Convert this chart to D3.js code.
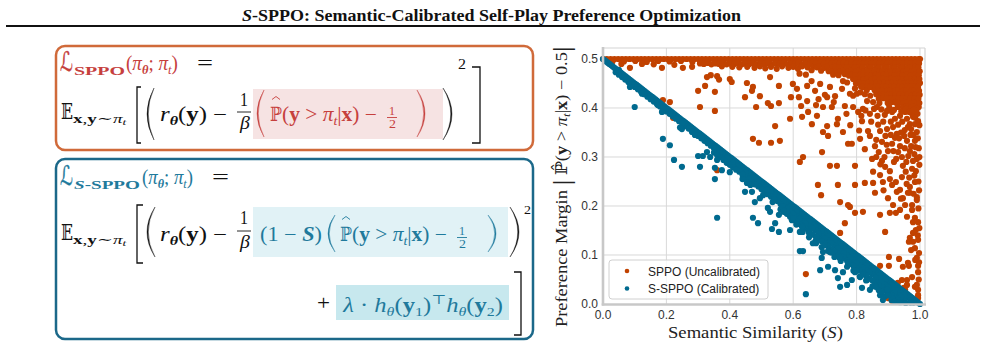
<!DOCTYPE html>
<html><head><meta charset="utf-8">
<script src="https://cdn.jsdelivr.net/npm/d3@7"></script>
<style>body{margin:0;background:#fff}svg{display:block}</style>
</head><body><svg id="c" width="985" height="357"></svg>
<script>
// ===== DATA =====
const xTicks = [0.0, 0.2, 0.4, 0.6, 0.8, 1.0];
const yTicks = [0.0, 0.1, 0.2, 0.3, 0.4, 0.5];
const seriesNames = ["SPPO (Uncalibrated)", "S-SPPO (Calibrated)"];

// SPPO: dense top band [S, margin]
const sppoBand = [[0.000,0.500],[0.012,0.500],[0.024,0.500],[0.036,0.500],[0.048,0.500],[0.060,0.500],[0.072,0.500],[0.084,0.500],[0.096,0.500],[0.108,0.500],[0.120,0.500],[0.132,0.500],[0.144,0.500],[0.156,0.500],[0.168,0.500],[0.180,0.500],[0.192,0.500],[0.204,0.500],[0.216,0.500],[0.228,0.500],[0.240,0.500],[0.252,0.500],[0.264,0.500],[0.276,0.500],[0.288,0.500],[0.300,0.500],[0.312,0.500],[0.324,0.500],[0.336,0.500],[0.348,0.500],[0.360,0.500],[0.372,0.500],[0.384,0.500],[0.396,0.500],[0.408,0.500],[0.420,0.500],[0.432,0.500],[0.444,0.500],[0.456,0.500],[0.468,0.500],[0.480,0.500],[0.492,0.500],[0.504,0.500],[0.516,0.500],[0.528,0.500],[0.540,0.500],[0.552,0.500],[0.564,0.500],[0.576,0.500],[0.588,0.500],[0.600,0.500],[0.612,0.500],[0.624,0.500],[0.636,0.500],[0.648,0.500],[0.660,0.500],[0.672,0.500],[0.684,0.500],[0.696,0.500],[0.708,0.500],[0.720,0.500],[0.732,0.500],[0.744,0.500],[0.756,0.500],[0.768,0.500],[0.780,0.500],[0.792,0.500],[0.804,0.500],[0.816,0.500],[0.828,0.500],[0.840,0.500],[0.852,0.500],[0.864,0.500],[0.876,0.500],[0.888,0.500],[0.900,0.500],[0.912,0.500],[0.924,0.500],[0.936,0.500],[0.948,0.500],[0.960,0.500],[0.972,0.500],[0.984,0.500],[0.996,0.500],[1.000,0.500],
[0.030,0.495],[0.066,0.495],[0.102,0.496],[0.138,0.494],[0.174,0.496],[0.210,0.495],[0.246,0.496],[0.282,0.494],[0.306,0.491],[0.318,0.490],[0.330,0.492],[0.342,0.489],[0.354,0.491],[0.366,0.490],[0.378,0.492],[0.390,0.489],[0.402,0.491],[0.414,0.490],[0.426,0.492],[0.438,0.489],[0.450,0.491],[0.462,0.490],[0.474,0.492],[0.486,0.489],[0.498,0.491],[0.510,0.490],[0.522,0.492],[0.534,0.489],[0.546,0.491],[0.558,0.490],[0.570,0.492],[0.582,0.489],[0.594,0.491],[0.606,0.490],[0.618,0.492],[0.630,0.489],[0.642,0.491],[0.654,0.490],
[0.455,0.484],[0.478,0.482],[0.495,0.485],[0.512,0.481],[0.530,0.484],[0.548,0.480],[0.565,0.485],[0.585,0.482],[0.600,0.484],[0.615,0.480],[0.628,0.485],[0.645,0.483],[0.160,0.489],[0.225,0.488],[0.058,0.490],[0.375,0.485],[0.408,0.484],[0.430,0.483]];

// SPPO: dense wedge at high similarity
const sppoWedge = [[0.660,0.492],[0.663,0.484],[0.658,0.477],[0.672,0.491],[0.675,0.483],[0.685,0.492],[0.682,0.485],[0.688,0.476],[0.697,0.490],[0.699,0.482],[0.710,0.492],[0.708,0.484],[0.712,0.475],
[0.722,0.491],[0.724,0.483],[0.720,0.475],[0.726,0.468],[0.735,0.492],[0.733,0.484],[0.737,0.476],[0.747,0.491],[0.745,0.483],[0.749,0.474],[0.743,0.467],[0.760,0.492],[0.762,0.484],[0.758,0.476],[0.763,0.469],[0.772,0.491],[0.770,0.483],[0.774,0.475],[0.776,0.466],[0.785,0.492],[0.787,0.484],[0.783,0.476],[0.786,0.468],[0.789,0.459],
[0.797,0.491],[0.795,0.483],[0.799,0.475],[0.796,0.467],[0.800,0.459],[0.798,0.450],[0.810,0.492],[0.812,0.484],[0.808,0.476],[0.811,0.468],[0.813,0.460],[0.809,0.452],[0.814,0.444],[0.822,0.491],[0.820,0.483],[0.824,0.475],[0.821,0.467],[0.823,0.459],[0.825,0.451],[0.819,0.443],[0.835,0.492],[0.837,0.484],[0.833,0.476],[0.836,0.468],[0.834,0.460],[0.838,0.452],[0.835,0.444],[0.832,0.436],[0.847,0.491],[0.845,0.483],[0.849,0.475],[0.846,0.467],[0.848,0.459],[0.850,0.451],[0.844,0.443],[0.860,0.492],[0.862,0.484],[0.858,0.476],[0.861,0.468],[0.859,0.460],[0.863,0.452],[0.860,0.444],[0.857,0.436],[0.862,0.428],
[0.872,0.491],[0.870,0.483],[0.874,0.475],[0.871,0.467],[0.873,0.459],[0.875,0.451],[0.869,0.443],[0.872,0.435],[0.874,0.427],[0.870,0.419],[0.885,0.492],[0.887,0.484],[0.883,0.476],[0.886,0.468],[0.884,0.460],[0.888,0.452],[0.885,0.444],[0.882,0.436],[0.887,0.428],[0.884,0.420],[0.897,0.491],[0.895,0.483],[0.899,0.475],[0.896,0.467],[0.898,0.459],[0.900,0.451],[0.894,0.443],[0.897,0.435],[0.899,0.427],[0.895,0.419],[0.898,0.410],[0.910,0.492],[0.912,0.484],[0.908,0.476],[0.911,0.468],[0.909,0.460],[0.913,0.452],[0.910,0.444],[0.907,0.436],[0.912,0.428],[0.909,0.420],[0.911,0.412],[0.922,0.491],[0.920,0.483],[0.924,0.475],[0.921,0.467],[0.923,0.459],[0.925,0.451],[0.919,0.443],[0.922,0.435],[0.924,0.427],[0.920,0.419],[0.923,0.411],
[0.935,0.492],[0.937,0.484],[0.933,0.476],[0.936,0.468],[0.934,0.460],[0.938,0.452],[0.935,0.444],[0.932,0.436],[0.937,0.428],[0.934,0.420],[0.936,0.411],[0.947,0.491],[0.945,0.483],[0.949,0.475],[0.946,0.467],[0.948,0.459],[0.950,0.451],[0.944,0.443],[0.947,0.435],[0.949,0.427],[0.945,0.419],[0.948,0.410],[0.946,0.402],[0.960,0.492],[0.962,0.484],[0.958,0.476],[0.961,0.468],[0.959,0.460],[0.963,0.452],[0.960,0.444],[0.957,0.436],[0.962,0.428],[0.959,0.420],[0.961,0.412],[0.958,0.404],[0.972,0.491],[0.970,0.483],[0.974,0.475],[0.971,0.467],[0.973,0.459],[0.975,0.451],[0.969,0.443],[0.972,0.435],[0.974,0.427],[0.970,0.419],[0.973,0.410],[0.971,0.402],[0.985,0.492],[0.987,0.484],[0.983,0.476],[0.986,0.468],[0.984,0.460],[0.988,0.452],[0.985,0.444],[0.982,0.436],[0.987,0.428],[0.984,0.420],[0.986,0.412],[0.983,0.404],[0.997,0.491],[0.995,0.483],[0.999,0.475],[0.996,0.467],[0.998,0.459],[1.000,0.451],[0.994,0.443],[0.997,0.435],[0.999,0.427],[0.995,0.419],[0.998,0.410],[0.996,0.402]];

// SPPO: scattered points
const sppoScatter = [[0.085,0.482],[0.123,0.490],[0.186,0.482],[0.252,0.482],[0.281,0.484],[0.189,0.416],[0.211,0.412],[0.221,0.380],
[0.300,0.435],[0.306,0.402],[0.322,0.445],[0.328,0.463],[0.340,0.467],[0.353,0.433],[0.353,0.394],[0.360,0.465],[0.366,0.458],[0.360,0.273],[0.400,0.459],[0.406,0.453],[0.448,0.422],[0.454,0.451],[0.470,0.435],[0.473,0.443],[0.483,0.402],[0.495,0.424],[0.473,0.337],[0.492,0.329],[0.520,0.410],[0.530,0.404],[0.527,0.463],[0.555,0.445],[0.555,0.410],[0.543,0.363],[0.530,0.329],[0.558,0.333],[0.590,0.378],[0.593,0.422],[0.599,0.449],[0.612,0.439],[0.618,0.422],[0.628,0.382],[0.625,0.404],[0.631,0.300],[0.621,0.290],[0.644,0.414],[0.647,0.392],[0.644,0.445],
[0.669,0.435],[0.685,0.449],[0.707,0.422],[0.716,0.443],[0.732,0.424],[0.754,0.439],[0.757,0.455],[0.779,0.429],[0.789,0.425],[0.801,0.429],[0.833,0.414],[0.852,0.412],[0.864,0.402],[0.896,0.394],[0.912,0.392],[0.937,0.384],[0.953,0.392],[0.959,0.378],[0.968,0.367],[0.975,0.388],[0.984,0.367],
[0.675,0.384],[0.659,0.367],[0.694,0.351],[0.707,0.363],[0.710,0.343],[0.691,0.310],[0.716,0.282],[0.738,0.282],[0.738,0.367],[0.741,0.378],[0.757,0.351],[0.763,0.404],[0.722,0.402],[0.694,0.402],[0.672,0.406],[0.773,0.327],[0.785,0.327],[0.789,0.402],[0.795,0.282],[0.811,0.337],[0.817,0.373],[0.820,0.398],[0.836,0.353],[0.842,0.343],[0.849,0.296],[0.858,0.322],[0.874,0.353],[0.880,0.331],[0.880,0.292],[0.890,0.280],[0.905,0.271],[0.899,0.312],[0.912,0.327],[0.915,0.361],[0.921,0.378],[0.927,0.347],[0.937,0.322],[0.943,0.300],[0.946,0.282],[0.959,0.333],[0.962,0.361],[0.968,0.312],[0.975,0.276],[0.978,0.382],[0.984,0.333],[0.990,0.296],[0.990,0.351],[0.994,0.373],[0.990,0.398],[0.987,0.271],
[0.678,0.243],[0.688,0.222],[0.741,0.243],[0.748,0.208],[0.773,0.202],[0.779,0.198],[0.795,0.243],[0.826,0.247],[0.852,0.247],[0.883,0.249],[0.795,0.186],[0.748,0.145],[0.763,0.165],[0.820,0.188],[0.858,0.227],[0.874,0.182],[0.890,0.147],[0.899,0.216],[0.905,0.186],[0.915,0.202],[0.924,0.186],[0.927,0.229],[0.937,0.192],[0.946,0.216],[0.953,0.202],[0.959,0.178],[0.962,0.227],[0.968,0.239],[0.975,0.192],[0.978,0.167],[0.978,0.127],[0.984,0.114],[0.987,0.151],[0.990,0.094],[0.990,0.212],[0.994,0.167],[0.997,0.104],[0.994,0.065],[0.994,0.029],[0.994,0.012],[0.984,0.035],[0.975,0.055],[0.959,0.049],[0.962,0.084],[0.946,0.076],[0.934,0.092],[0.943,0.049],[0.930,0.029],[0.953,0.029],[0.902,0.078],[0.905,0.045],[0.902,0.096],[0.965,0.127],[0.978,0.145],[0.984,0.176],[0.912,0.006],[0.899,0.012],[0.874,0.078],[0.640,0.061],[0.997,0.232],[0.993,0.140],[0.997,0.085],
[0.852,0.270],[0.874,0.263],[0.912,0.243],[0.924,0.249],[0.937,0.233],[0.943,0.259],[0.968,0.227],[0.975,0.202],[0.984,0.249],[0.990,0.218],[0.994,0.131],[0.968,0.135],[0.959,0.039],[0.990,0.039],[0.930,0.043],[0.965,0.078],[0.994,0.078],[0.949,0.033],[0.994,0.018],
[0.805,0.392],[0.815,0.384],[0.828,0.395],[0.842,0.388],[0.855,0.398],[0.866,0.384],[0.878,0.397],[0.889,0.386],[0.903,0.402],[0.918,0.396],[0.930,0.402],[0.941,0.393],[0.955,0.398],[0.966,0.392],[0.980,0.396],[0.992,0.388],[0.846,0.372],[0.868,0.366],[0.884,0.372],[0.896,0.357],[0.908,0.372],[0.931,0.366],[0.944,0.372],[0.952,0.355],[0.972,0.357],[0.985,0.380],[0.998,0.365],[0.862,0.335],[0.891,0.343],[0.921,0.339],[0.950,0.343],[0.980,0.345],[0.996,0.318],[0.972,0.322],[0.931,0.310],[0.918,0.290],[0.957,0.290],[0.982,0.306],[0.998,0.284],[0.870,0.310],[0.826,0.316],[0.808,0.354],[0.780,0.365],[0.768,0.388],[0.728,0.412],[0.700,0.427],[0.680,0.418],[0.658,0.455],[0.640,0.468],[0.620,0.470],[0.770,0.452],[0.795,0.440],[0.812,0.432],[0.826,0.428],[0.843,0.425],[0.872,0.410],
[0.862,0.300],[0.875,0.285],[0.888,0.300],[0.895,0.325],[0.908,0.345],[0.916,0.312],[0.925,0.296],[0.934,0.338],[0.940,0.350],[0.952,0.318],[0.963,0.302],[0.970,0.345],[0.978,0.292],[0.986,0.320],[0.993,0.338],[0.998,0.300],[0.955,0.270],[0.966,0.258],[0.982,0.262],[0.995,0.250],[0.905,0.255],[0.885,0.232],[0.940,0.215],[0.958,0.245],[0.980,0.225],[0.995,0.195],[0.998,0.155],[0.985,0.090],[0.972,0.110],[0.996,0.050]];

// S-SPPO: dense diagonal band
const ssppoBand = [[0,.5],[.01,.495],[.02,.49],[.03,.485],[.04,.48],[.05,.475],[.06,.47],[.07,.465],[.08,.46],[.09,.455],[.1,.45],[.11,.445],[.12,.44],[.13,.435],[.14,.43],[.15,.425],[.16,.42],[.17,.415],[.18,.41],[.19,.405],[.2,.4],[.21,.395],[.22,.39],[.23,.385],[.24,.38],[.25,.375],[.26,.37],[.27,.365],[.28,.36],[.29,.355],[.3,.35],[.31,.345],[.32,.34],[.33,.335],[.34,.33],[.35,.325],[.36,.32],[.37,.315],[.38,.31],[.39,.305],[.4,.3],[.41,.295],[.42,.29],[.43,.285],[.44,.28],[.45,.275],[.46,.27],[.47,.265],[.48,.26],[.49,.255],[.5,.25],[.51,.245],[.52,.24],[.53,.235],[.54,.23],[.55,.225],[.56,.22],[.57,.215],[.58,.21],[.59,.205],[.6,.2],[.61,.195],[.62,.19],[.63,.185],[.64,.18],[.65,.175],[.66,.17],[.67,.165],[.68,.16],[.69,.155],[.7,.15],[.71,.145],[.72,.14],[.73,.135],[.74,.13],[.75,.125],[.76,.12],[.77,.115],[.78,.11],[.79,.105],[.8,.1],[.81,.095],[.82,.09],[.83,.085],[.84,.08],[.85,.075],[.86,.07],[.87,.065],[.88,.06],[.89,.055],[.9,.05],[.91,.045],[.92,.04],[.93,.035],[.94,.03],[.95,.025],[.96,.02],[.97,.015],[.98,.01],[.99,.005],[1,0],
[.005,.4975],[.015,.4925],[.025,.4875],[.035,.4825],[.045,.4775],[.055,.4725],[.065,.4675],[.075,.4625],[.085,.4575],[.095,.4525],[.105,.4475],[.115,.4425],[.125,.4375],[.135,.4325],[.145,.4275],[.155,.4225],[.165,.4175],[.175,.4125],[.185,.4075],[.195,.4025],[.205,.3975],[.215,.3925],[.225,.3875],[.235,.3825],[.245,.3775],[.255,.3725],[.265,.3675],[.275,.3625],[.285,.3575],[.295,.3525],[.305,.3475],[.315,.3425],[.325,.3375],[.335,.3325],[.345,.3275],[.355,.3225],[.365,.3175],[.375,.3125],[.385,.3075],[.395,.3025],[.405,.2975],[.415,.2925],[.425,.2875],[.435,.2825],[.445,.2775],[.455,.2725],[.465,.2675],[.475,.2625],[.485,.2575],[.495,.2525],[.505,.2475],[.515,.2425],[.525,.2375],[.535,.2325],[.545,.2275],[.555,.2225],[.565,.2175],[.575,.2125],[.585,.2075],[.595,.2025],[.605,.1975],[.615,.1925],[.625,.1875],[.635,.1825],[.645,.1775],[.655,.1725],[.665,.1675],[.675,.1625],[.685,.1575],[.695,.1525],[.705,.1475],[.715,.1425],[.725,.1375],[.735,.1325],[.745,.1275],[.755,.1225],[.765,.1175],[.775,.1125],[.785,.1075],[.795,.1025],[.805,.0975],[.815,.0925],[.825,.0875],[.835,.0825],[.845,.0775],[.855,.0725],[.865,.0675],[.875,.0625],[.885,.0575],[.895,.0525],[.905,.0475],[.915,.0425],[.925,.0375],[.935,.0325],[.945,.0275],[.955,.0225],[.965,.0175],[.975,.0125],[.985,.0075],[.995,.0025],
[.04,.473],[.06,.463],[.08,.453],[.1,.443],[.12,.433],[.14,.423],[.16,.413],[.18,.403],[.2,.393],[.22,.383],[.24,.373],[.26,.363],[.28,.353],[.3,.343],[.32,.333],[.34,.323],[.36,.313],[.38,.303],[.4,.293],[.42,.283],[.44,.273],[.46,.263],[.48,.253],[.5,.243],[.52,.233],[.54,.223],[.56,.213],[.58,.203],[.6,.193],[.62,.183],[.64,.173],[.66,.163],[.68,.153],[.7,.143],[.72,.133],[.74,.123],[.76,.113],[.78,.103],[.8,.093],[.82,.083],[.84,.073],[.86,.063],[.88,.053],[.9,.043],[.92,.033],[.94,.023],[.96,.013],[.98,.003],
[.05,.468],[.07,.458],[.09,.448],[.11,.438],[.13,.428],[.15,.418],[.17,.408],[.19,.398],[.21,.388],[.23,.378],[.25,.368],[.27,.358],[.29,.348],[.31,.338],[.33,.328],[.35,.318],[.37,.308],[.39,.298],[.41,.288],[.43,.278],[.45,.268],[.47,.258],[.49,.248],[.51,.238],[.53,.228],[.55,.218],[.57,.208],[.59,.198],[.61,.188],[.63,.178],[.65,.168],[.67,.158],[.69,.148],[.71,.138],[.73,.128],[.75,.118],[.77,.108],[.79,.098],[.81,.088],[.83,.078],[.85,.068],[.87,.058],[.89,.048],[.91,.038],[.93,.028],[.95,.018],[.97,.008],
[.35,.309],[.37,.300],[.39,.288],[.41,.279],[.43,.270],[.45,.258],[.47,.249],[.49,.240],[.51,.228],[.53,.219],[.55,.210],[.57,.198],[.59,.189],[.61,.180],[.63,.168],[.65,.159],[.67,.150],[.69,.138],[.71,.129],[.73,.120],[.75,.108],[.77,.099],[.79,.090],[.81,.078],[.83,.069],[.85,.060],[.87,.048],[.89,.039],[.91,.030],[.93,.018],[.95,.009],
[.36,.304],[.38,.294],[.40,.284],[.42,.274],[.44,.264],[.46,.254],[.48,.244],[.50,.234],[.52,.224],[.54,.214],[.56,.204],[.58,.194],[.60,.184],[.62,.174],[.64,.164],[.66,.154],[.68,.144],[.70,.134],[.72,.124],[.74,.114],[.76,.104],[.78,.094],[.80,.084],[.82,.074],[.84,.064],[.86,.054],[.88,.044],[.90,.034],[.92,.024],[.94,.014],
[.56,.193],[.58,.184],[.6,.172],[.62,.163],[.64,.154],[.66,.142],[.68,.133],[.7,.124],[.72,.112],[.74,.103],[.76,.094],[.78,.082],[.8,.073],[.82,.064],[.84,.052],[.86,.043],[.88,.034],[.9,.022],[.92,.013],[.94,.004],
[.57,.188],[.59,.178],[.61,.168],[.63,.158],[.65,.148],[.67,.138],[.69,.128],[.71,.118],[.73,.108],[.75,.098],[.77,.088],[.79,.078],[.81,.068],[.83,.058],[.85,.048],[.87,.038],[.89,.028],[.91,.018],[.93,.008],
[.63,.147],[.65,.136],[.67,.128],[.69,.116],[.71,.108],[.73,.096],[.75,.088],[.77,.076],[.79,.068],[.81,.056],[.83,.048],[.85,.036],[.87,.028],[.89,.016],[.91,.008]];

// S-SPPO: scattered points below the band
const ssppoScatter = [[0.050,0.478],[0.082,0.453],[0.085,0.443],[0.100,0.402],[0.123,0.429],[0.173,0.406],[0.186,0.392],[0.189,0.337],[0.211,0.324],[0.224,0.294],[0.249,0.280],[0.249,0.357],[0.243,0.360],[0.281,0.351],[0.290,0.345],[0.300,0.302],[0.306,0.280],[0.315,0.302],[0.328,0.310],[0.338,0.300],[0.353,0.278],[0.353,0.255],[0.360,0.294],[0.375,0.273],[0.400,0.269],[0.360,0.176],[0.448,0.229],[0.454,0.247],[0.470,0.229],[0.473,0.176],[0.479,0.208],[0.489,0.165],[0.495,0.216],[0.517,0.233],[0.520,0.196],[0.527,0.188],[0.533,0.153],[0.543,0.165],[0.555,0.147],[0.555,0.182],[0.565,0.198],[0.590,0.151],[0.596,0.171],[0.621,0.147],[0.628,0.157],[0.621,0.108],[0.631,0.108],[0.640,0.020],[0.662,0.124],[0.672,0.124],[0.694,0.106],[0.690,0.094],[0.685,0.069],[0.710,0.076],[0.716,0.106],[0.732,0.069],[0.741,0.053],[0.748,0.035],[0.757,0.065],[0.770,0.039],[0.773,0.080],[0.785,0.049],[0.795,0.065],[0.811,0.055],[0.817,0.033],[0.833,0.049],[0.842,0.029],[0.858,0.039],[0.874,0.018],[0.883,0.008],[0.912,0.012],[0.896,0.029],
[0.44,0.255],[0.465,0.243],[0.505,0.222],[0.535,0.208],[0.57,0.19],[0.60,0.175],[0.61,0.162],[0.65,0.145],[0.675,0.137],[0.70,0.12],[0.72,0.105],[0.745,0.095],[0.775,0.085],[0.80,0.068],[0.82,0.06],[0.86,0.035],[0.88,0.025],[0.90,0.018],[0.92,0.005],[0.935,0.004],[0.955,0.002],[0.97,0.003]];

// ===== DRAWING =====
const SERIF = "'Liberation Serif','DejaVu Serif',serif";
const SANS = "'Liberation Sans','DejaVu Sans',sans-serif";
const ORANGE = "#c14200", BLUE = "#006a8f";
const RED = "#c6403d", TEAL = "#1f7a9c", INK = "#111";
const svg = d3.select("#c");
svg.append("rect").attr("width",985).attr("height",357).attr("fill","#fff");

function piece(parent, runs, x0, x1, base, size, color, fam){
  const t = parent.append("text").attr("x",0).attr("y",base)
    .attr("font-family",fam||SERIF).attr("font-size",size).attr("fill",color)
    .style("white-space","pre");
  let prev = 0;
  runs.forEach(r=>{
    const dy = r.dy||0;
    const sp = t.append("tspan").text(r.t).attr("dy",dy-prev);
    prev = dy;
    if(r.s) sp.attr("font-size",r.s);
    if(r.f && r.f.includes("b")) sp.attr("font-weight","bold");
    if(r.f && r.f.includes("i")) sp.attr("font-style","italic");
    if(r.c) sp.attr("fill",r.c);
  });
  const bb = t.node().getBBox();
  const sx = (x1-x0)/bb.width;
  t.attr("transform",`translate(${x0-bb.x*sx},0) scale(${sx},1)`);
  return t;
}
function paren(g, xa, xb, y0, y1, left, color){
  const ym=(y0+y1)/2, th=1.25;
  let d;
  if(left){
    const co=2*xa-xb, ci=2*(xa+th)-xb;
    d=`M${xb},${y0} Q${co},${ym} ${xb},${y1} Q${ci},${ym} ${xb},${y0} Z`;
  } else {
    const co=2*xb-xa, ci=2*(xb-th)-xa;
    d=`M${xa},${y0} Q${co},${ym} ${xa},${y1} Q${ci},${ym} ${xa},${y0} Z`;
  }
  g.append("path").attr("d",d).attr("fill",color).attr("stroke",color).attr("stroke-width",0.4);
}
function bracket(g, xa, xb, y0, y1, left){
  const d = left ? `M${xb},${y0} H${xa} V${y1} H${xb}` : `M${xa},${y0} H${xb} V${y1} H${xa}`;
  g.append("path").attr("d",d).attr("fill","none").attr("stroke",INK).attr("stroke-width",1.3);
}
function hat(g, cx, y, color){
  g.append("path").attr("d",`M${cx-4},${y+2.5} L${cx},${y-0.5} L${cx+4},${y+2.5}`)
    .attr("fill","none").attr("stroke",color).attr("stroke-width",0.9);
}
function hline(g,x0,x1,y,color){ g.append("line").attr("x1",x0).attr("x2",x1).attr("y1",y).attr("y2",y).attr("stroke",color).attr("stroke-width",0.9); }

// ---- Title ----
piece(svg,[{t:"S",f:"bi"},{t:"-SPPO: Semantic-Calibrated Self-Play Preference Optimization",f:"b"}],242,742,21,17,INK);
svg.append("rect").attr("x",6).attr("y",25).attr("width",974).attr("height",2).attr("fill",INK);

// ---- Orange box ----
const ob = svg.append("g");
ob.append("rect").attr("x",253).attr("y",89).attr("width",190).attr("height",50).attr("fill","#f6e3e3");
ob.append("rect").attr("x",56).attr("y",46).attr("width",477).attr("height",104).attr("rx",9)
  .attr("fill","none").attr("stroke","#d06a3a").attr("stroke-width",2.5);
piece(ob,[{t:"ℒ"}],60,73,71,27,RED,"'DejaVu Sans',sans-serif").attr("stroke",RED).attr("stroke-width",0.3);
piece(ob,[{t:"SPPO",f:"b"}],74,125,75,13,RED);
piece(ob,[{t:"("},{t:"π",f:"i"},{t:"θ",f:"bi",s:13,dy:4},{t:"; "},{t:"π",f:"i"},{t:"t",f:"i",s:13,dy:4},{t:")"}],126,178,70,20,RED);
piece(ob,[{t:"="}],197,213,70,20,INK);
piece(ob,[{t:"𝔼"}],61,73,119,22,INK);
piece(ob,[{t:"x",f:"b"},{t:","},{t:"y",f:"b"},{t:"∼"},{t:"π",f:"i"},{t:"t",f:"i",s:9,dy:2}],73,127,123,13,INK);
bracket(ob,137,141,87,143,true);
paren(ob,147,154,88,140,true,INK);
piece(ob,[{t:"r",f:"i"},{t:"θ",f:"bi",s:13,dy:4},{t:"("},{t:"y",f:"b"},{t:")"}],160,207,121,20,INK);
piece(ob,[{t:"−"}],213,227,121,20,INK);
piece(ob,[{t:"1"}],240,248,106,18,INK);
hline(ob,237,251,112,INK);
piece(ob,[{t:"β",f:"i"}],239,250,129,18,INK);
paren(ob,257,264,90,137,true,RED);
piece(ob,[{t:"ℙ"}],270,282,121,20,RED);
hat(ob,276,97,RED);
piece(ob,[{t:"("},{t:"y",f:"b"},{t:" > "},{t:"π",f:"i"},{t:"t",f:"i",s:13,dy:4},{t:"|"},{t:"x",f:"b"},{t:") −"}],282,377,121,20,RED);
piece(ob,[{t:"1"}],389,395,115,12,RED);
hline(ob,387,397,117.5,RED);
piece(ob,[{t:"2"}],389,396,128,12,RED);
paren(ob,417,425,90,137,false,RED);
paren(ob,443,452,88,140,false,INK);
piece(ob,[{t:"2"}],458,466,69,14,INK);
bracket(ob,472,480,67,143,false);

// ---- Blue box ----
const bbx = svg.append("g");
bbx.append("rect").attr("x",253).attr("y",207).attr("width",255).attr("height",50).attr("fill","#e1f2f6");
bbx.append("rect").attr("x",336).attr("y",285).attr("width",173).attr("height",35).attr("fill","#c7e8ee");
bbx.append("rect").attr("x",56).attr("y",159).attr("width",477).attr("height",180).attr("rx",9)
  .attr("fill","none").attr("stroke","#1b6889").attr("stroke-width",2.5);
piece(bbx,[{t:"ℒ"}],60,73,185,27,TEAL,"'DejaVu Sans',sans-serif").attr("stroke",TEAL).attr("stroke-width",0.3);
piece(bbx,[{t:"S",f:"bi"},{t:"-SPPO",f:"b"}],74,140,189,13,TEAL);
piece(bbx,[{t:"("},{t:"π",f:"i"},{t:"θ",f:"bi",s:13,dy:4},{t:"; "},{t:"π",f:"i"},{t:"t",f:"i",s:13,dy:4},{t:")"}],142,193,184,20,TEAL);
piece(bbx,[{t:"="}],212,229,184,20,INK);
piece(bbx,[{t:"𝔼"}],61,73,240,22,INK);
piece(bbx,[{t:"x",f:"b"},{t:","},{t:"y",f:"b"},{t:"∼"},{t:"π",f:"i"},{t:"t",f:"i",s:9,dy:2}],73,127,244,13,INK);
bracket(bbx,137,143,205,263,true);
paren(bbx,147,155,207,257,true,INK);
piece(bbx,[{t:"r",f:"i"},{t:"θ",f:"bi",s:13,dy:4},{t:"("},{t:"y",f:"b"},{t:")"}],160,207,241,20,INK);
piece(bbx,[{t:"−"}],213,227,241,20,INK);
piece(bbx,[{t:"1"}],240,248,224,18,INK);
hline(bbx,237,251,231,INK);
piece(bbx,[{t:"β",f:"i"}],239,250,248,18,INK);
piece(bbx,[{t:"(1 − "},{t:"S",f:"bi"},{t:")"}],260,322,241,20,TEAL);
paren(bbx,328,335,215,252,true,TEAL);
piece(bbx,[{t:"ℙ"}],340,352,241,20,TEAL);
hat(bbx,346,217,TEAL);
piece(bbx,[{t:"("},{t:"y",f:"b"},{t:" > "},{t:"π",f:"i"},{t:"t",f:"i",s:13,dy:4},{t:"|"},{t:"x",f:"b"},{t:") −"}],352,447,241,20,TEAL);
piece(bbx,[{t:"1"}],459,465,235,12,TEAL);
hline(bbx,457,467,237.5,TEAL);
piece(bbx,[{t:"2"}],459,466,248,12,TEAL);
paren(bbx,488,496,215,252,false,TEAL);
paren(bbx,510,519,207,257,false,INK);
piece(bbx,[{t:"2"}],524,531,214,13,INK);
piece(bbx,[{t:"+"}],317,330,310,20,INK);
piece(bbx,[{t:"λ",f:"i"},{t:" · "},{t:"h",f:"i"},{t:"θ",f:"i",s:13,dy:4},{t:"("},{t:"y",f:"b"},{t:"1",s:13,dy:4},{t:")"},{t:"⊤",s:13,dy:-8},{t:"h",f:"i"},{t:"θ",f:"i",s:13,dy:4},{t:"("},{t:"y",f:"b"},{t:"2",s:13,dy:4},{t:")"}],342,503,312,20,TEAL);
bracket(bbx,514,521,272,335,false);

// ---- Scatter plot ----
const x = d3.scaleLinear().domain([0,1.0158]).range([603,925]);
const y = d3.scaleLinear().domain([0,0.5224]).range([304,48]);
const pg = svg.append("g");
pg.append("rect").attr("x",603).attr("y",48).attr("width",322).attr("height",256).attr("fill","#fff");
pg.selectAll(".gx").data(xTicks.slice(1)).join("line").attr("x1",d=>x(d)).attr("x2",d=>x(d))
  .attr("y1",48).attr("y2",304).attr("stroke","#d9d9d9").attr("stroke-width",1);
pg.selectAll(".gy").data(yTicks.slice(1)).join("line").attr("y1",d=>y(d)).attr("y2",d=>y(d))
  .attr("x1",603).attr("x2",925).attr("stroke","#d9d9d9").attr("stroke-width",1);

const R = 3.1;
const oPts = sppoBand.concat(sppoWedge, sppoScatter);
const bPts = ssppoBand.concat(ssppoScatter);
pg.append("g").selectAll("circle").data(oPts).join("circle")
  .attr("cx",d=>x(d[0])).attr("cy",d=>y(d[1])).attr("r",R).attr("fill",ORANGE);
pg.append("g").selectAll("circle").data(bPts).join("circle")
  .attr("cx",d=>x(d[0])).attr("cy",d=>y(d[1])).attr("r",R).attr("fill",BLUE);

// frame
pg.append("line").attr("x1",603).attr("x2",925).attr("y1",48).attr("y2",48).attr("stroke","#d4d4d4").attr("stroke-width",1.2);
pg.append("line").attr("x1",925).attr("x2",925).attr("y1",48).attr("y2",304).attr("stroke","#d4d4d4").attr("stroke-width",1.2);
pg.append("line").attr("x1",603).attr("x2",603).attr("y1",47).attr("y2",305.5).attr("stroke","#c8c8c8").attr("stroke-width",2.6);
pg.append("line").attr("x1",601.7).attr("x2",926).attr("y1",304.5).attr("y2",304.5).attr("stroke","#c8c8c8").attr("stroke-width",2.6);

// ticks
pg.selectAll(".xt").data(xTicks).join("text").attr("x",d=>x(d)).attr("y",318.5)
  .attr("text-anchor","middle").attr("font-family",SANS).attr("font-size",12).attr("fill","#333")
  .text(d=>d3.format(".1f")(d));
pg.selectAll(".yt").data(yTicks).join("text").attr("x",598).attr("y",d=>y(d)+4.3)
  .attr("text-anchor","end").attr("font-family",SANS).attr("font-size",12).attr("fill","#333")
  .text(d=>d3.format(".1f")(d));

// axis labels
piece(pg,[{t:"Semantic Similarity ("},{t:"S",f:"i"},{t:")"}],668,843,338,16,"#222");
const yl = pg.append("g").attr("transform","translate(567,327) rotate(-90)");
piece(yl,[{t:"Preference Margin "},{t:"|",s:26,dy:3},{t:" ℙ̂",s:16},{t:"("},{t:"y",f:"b"},{t:" > "},{t:"π",f:"i"},{t:"t",f:"i",s:11,dy:3},{t:"|"},{t:"x",f:"b"},{t:") − 0.5"},{t:"|",s:26,dy:3}],0,281,0,16,"#222");

// legend
const lg = pg.append("g");
lg.append("rect").attr("x",609).attr("y",260).attr("width",159).attr("height",39).attr("rx",3)
  .attr("fill","#fff").attr("fill-opacity",0.8).attr("stroke","#d0d0d0").attr("stroke-width",1);
const legCols = [ORANGE, BLUE];
lg.selectAll("circle").data(seriesNames).join("circle").attr("cx",627).attr("cy",(d,i)=>271+i*17.5)
  .attr("r",2.3).attr("fill",(d,i)=>legCols[i]);
lg.selectAll("text").data(seriesNames).join("text").attr("x",648).attr("y",(d,i)=>275.5+i*17.5)
  .attr("font-family",SANS).attr("font-size",12).attr("fill","#222").text(d=>d);
</script></body></html>
